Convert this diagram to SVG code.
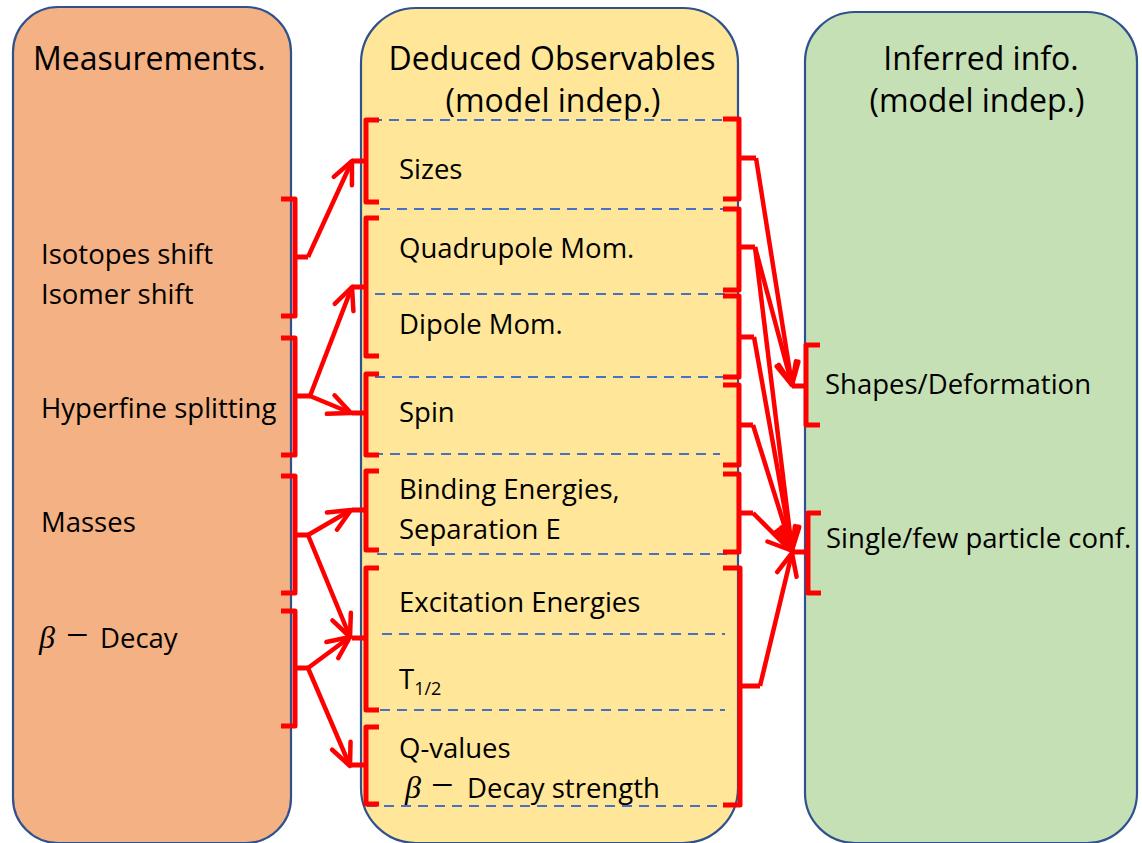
<svg xmlns="http://www.w3.org/2000/svg" width="1142" height="843" viewBox="0 0 1142 843">
<defs>
<style>
.box{stroke:#2F528F;stroke-width:2.2}
.t{font-family:"Open Sans","Liberation Sans",sans-serif;fill:#000}
.title{font-size:32px}
.body{font-size:27.5px}
.math{font-family:"Liberation Serif","DejaVu Serif",serif;font-style:italic;font-size:32px}
.minus{font-family:"Liberation Serif","DejaVu Serif",serif;font-size:40px}
.sub{font-size:18px}
.dash{stroke:#4472C4;stroke-width:2.2;stroke-dasharray:10 7;fill:none}
.br{stroke:#FF0000;stroke-width:5;fill:none;stroke-linejoin:round;stroke-linecap:butt}
.ar{stroke:#FF0000;stroke-width:4.5;fill:none;marker-end:url(#head)}
</style>
<marker id="head" markerUnits="userSpaceOnUse" markerWidth="40" markerHeight="40" refX="0" refY="0" orient="auto" overflow="visible">
<path d="M-22,-10 L0,0 L-22,10" fill="none" stroke="#FF0000" stroke-width="4.5" stroke-linejoin="round" stroke-linecap="round"/>
</marker>
</defs>
<rect width="1142" height="843" fill="#FFFFFF"/>

<g id="measurements">
<rect class="box" x="13" y="7" width="278" height="836" rx="45" ry="45" fill="#F4B183"/>
<text class="t title" x="33" y="70">Measurements.</text>
</g>
<g id="deduced">
<rect class="box" x="361" y="8" width="377" height="835" rx="55" ry="55" fill="#FFE699"/>
<text class="t title" x="552" y="70" text-anchor="middle">Deduced Observables</text>
<text class="t title" x="553" y="112" text-anchor="middle">(model indep.)</text>
</g>
<g id="inferred">
<rect class="box" x="805" y="12" width="332" height="831" rx="50" ry="50" fill="#C5E0B4"/>
<text class="t title" x="981" y="70" text-anchor="middle">Inferred info.</text>
<text class="t title" x="977" y="112" text-anchor="middle">(model indep.)</text>
</g>

<g id="dividers">
<line class="dash" x1="372" y1="120" x2="727" y2="120"/>
<line class="dash" x1="380" y1="209" x2="724" y2="209"/>
<line class="dash" x1="375" y1="294" x2="727" y2="294"/>
<line class="dash" x1="375" y1="377" x2="727" y2="377"/>
<line class="dash" x1="373" y1="454" x2="720" y2="454"/>
<line class="dash" x1="377" y1="554" x2="727" y2="554"/>
<line class="dash" x1="382" y1="634" x2="725" y2="634"/>
<line class="dash" x1="380" y1="710" x2="725" y2="710"/>
<line class="dash" x1="367" y1="806" x2="732" y2="806"/>
</g>

<g id="m-isotopes"><text class="t body" x="41" y="264">Isotopes shift</text><text class="t body" x="41" y="304">Isomer shift</text></g>
<g id="m-hyperfine"><text class="t body" x="41" y="418">Hyperfine splitting</text></g>
<g id="m-masses"><text class="t body" x="41" y="532">Masses</text></g>
<g id="m-beta"><text class="t body" y="648"><tspan class="math" x="39">β</tspan><tspan class="minus" x="66">−</tspan><tspan x="100">Decay</tspan></text></g>

<g id="d-sizes"><text class="t body" x="399" y="179">Sizes</text></g>
<g id="d-quadrupole"><text class="t body" x="399" y="258">Quadrupole Mom.</text></g>
<g id="d-dipole"><text class="t body" x="399" y="334">Dipole Mom.</text></g>
<g id="d-spin"><text class="t body" x="399" y="422">Spin</text></g>
<g id="d-binding"><text class="t body" x="399" y="499">Binding Energies,</text><text class="t body" x="399" y="539">Separation E</text></g>
<g id="d-excitation"><text class="t body" x="399" y="612">Excitation Energies</text></g>
<g id="d-halflife"><text class="t body" x="399" y="689">T<tspan class="sub" dy="6">1/2</tspan></text></g>
<g id="d-qvalues"><text class="t body" x="399" y="758">Q-values</text><text class="t body" y="798"><tspan class="math" x="405">β</tspan><tspan class="minus" x="431">−</tspan><tspan x="467">Decay strength</tspan></text></g>

<g id="i-shapes"><text class="t body" x="825" y="394">Shapes/Deformation</text></g>
<g id="i-single"><text class="t body" x="826" y="548">Single/few particle conf.</text></g>

<g id="brackets">
<path class="br" d="M281,199 H295 V316 H281 M295,257 H308"/>
<path class="br" d="M281,338 H295 V455 H281 M295,396 H310"/>
<path class="br" d="M281,476 H295 V593 H281 M295,535 H308"/>
<path class="br" d="M281,611 H295 V726 H281 M295,668 H308"/>

<path class="br" d="M379,120 H366 V202 H379 M366,161 H352"/>
<path class="br" d="M379,218 H366 V356 H379 M366,287 H352"/>
<path class="br" d="M379,374 H366 V455 H379 M366,413 H352"/>
<path class="br" d="M379,471 H366 V550 H379 M366,510 H352"/>
<path class="br" d="M379,568 H366 V710 H379 M366,638 H352"/>
<path class="br" d="M379,727 H366 V804 H379 M366,765 H352"/>

<path class="br" d="M723,119 H739 V199 H723 M739,158 H756"/>
<path class="br" d="M723,209 H739 V290 H723 M739,247 H755"/>
<path class="br" d="M723,296 H739 V377 H723 M739,337 H754"/>
<path class="br" d="M723,385 H739 V465 H723 M739,425 H753"/>
<path class="br" d="M723,474 H739 V552 H723 M739,513 H753"/>
<path class="br" d="M723,568 H740 V805 H723 M740,686 H760"/>

<path class="br" d="M820,345 H806 V425 H820 M806,386 H792"/>
<path class="br" d="M821,513 H808 V593 H821 M808,552 H792"/>
</g>

<g id="connectors">
<line class="ar" x1="308" y1="257" x2="352" y2="161"/>
<line class="ar" x1="310" y1="396" x2="352" y2="287"/>
<line class="ar" x1="310" y1="396" x2="351" y2="413"/>
<line class="ar" x1="308" y1="535" x2="351" y2="510"/>
<line class="ar" x1="308" y1="535" x2="350" y2="637"/>
<line class="ar" x1="308" y1="668" x2="350" y2="637"/>
<line class="ar" x1="308" y1="668" x2="350" y2="766"/>

<line class="ar" x1="756" y1="158" x2="792" y2="385"/>
<line class="ar" x1="755" y1="247" x2="792" y2="385"/>
<line class="ar" x1="755" y1="247" x2="792" y2="550"/>
<line class="ar" x1="754" y1="337" x2="792" y2="550"/>
<line class="ar" x1="753" y1="425" x2="792" y2="550"/>
<line class="ar" x1="753" y1="513" x2="790" y2="550"/>
<line class="ar" x1="760" y1="686" x2="792" y2="553"/>
</g>
</svg>
